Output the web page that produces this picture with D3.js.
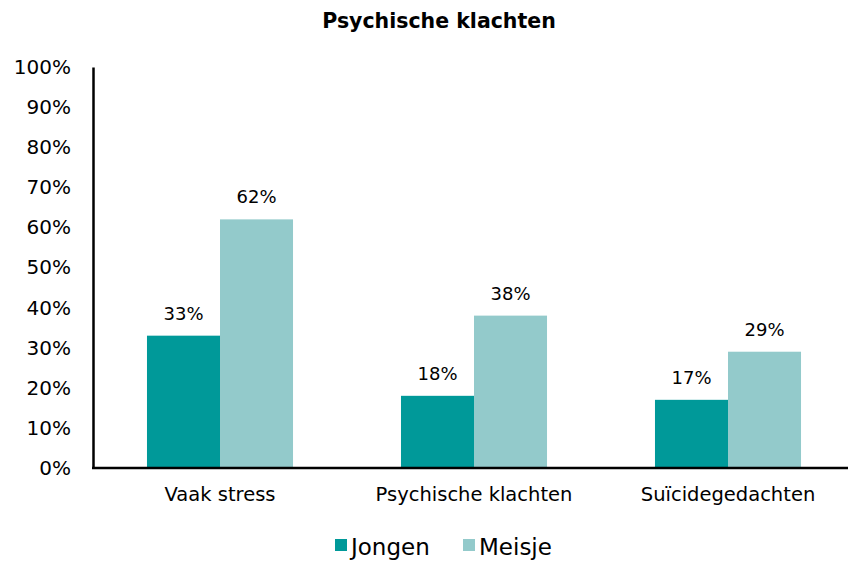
<!DOCTYPE html>
<html>
<head>
<meta charset="utf-8">
<script src="https://cdn.jsdelivr.net/npm/d3@7"></script>
<style>
  body { margin: 0; background: #fff; }
  svg { display: block; font-family: "DejaVu Sans", sans-serif; }
</style>
</head>
<body>
<svg id="chart" width="848" height="561"></svg>
<script>
const title = "Psychische klachten";
const categories = ["Vaak stress", "Psychische klachten", "Suïcidegedachten"];
const seriesNames = ["Jongen", "Meisje"];
const jongen = [33, 18, 17];
const meisje = [62, 38, 29];
const yTicks = [0, 10, 20, 30, 40, 50, 60, 70, 80, 90, 100];
const colors = ["#009999", "#93CACB"];

const svg = d3.select("#chart");
const mLeft = 93, mRight = 855, mTop = 67, mBottom = 468;

const x0 = d3.scaleBand().domain(categories).range([mLeft, mRight]).paddingInner(0.425).paddingOuter(0.2125);
const x1 = d3.scaleBand().domain(seriesNames).range([0, x0.bandwidth()]);
const y = d3.scaleLinear().domain([0, 100]).range([mBottom, mTop]);

const data = categories.map((c, i) => ({ cat: c, values: [jongen[i], meisje[i]] }));

// Title
svg.append("text")
  .attr("x", 439).attr("y", 28)
  .attr("text-anchor", "middle")
  .attr("font-weight", "bold")
  .attr("font-size", 20.5)
  .attr("fill", "#000")
  .text(title);

// Bars
const groups = svg.append("g").selectAll("g").data(data).join("g")
  .attr("transform", d => `translate(${x0(d.cat)},0)`);

groups.selectAll("rect").data(d => d.values.map((v, i) => ({ s: seriesNames[i], v, i }))).join("rect")
  .attr("x", d => x1(d.s))
  .attr("y", d => y(d.v))
  .attr("width", x1.bandwidth())
  .attr("height", d => y(0) - y(d.v))
  .attr("fill", d => colors[d.i]);

groups.selectAll("text.val").data(d => d.values.map((v, i) => ({ s: seriesNames[i], v, i }))).join("text")
  .attr("class", "val")
  .attr("x", d => x1(d.s) + x1.bandwidth() / 2)
  .attr("y", d => y(d.v) - 16)
  .attr("text-anchor", "middle")
  .attr("font-size", 18)
  .attr("fill", "#000")
  .text(d => d.v + "%");

// Y axis
const yAxis = d3.axisLeft(y).tickValues(yTicks).tickSize(0).tickPadding(22).tickFormat(d => d + "%");
const gy = svg.append("g").attr("transform", `translate(${mLeft},0)`).call(yAxis);
gy.select(".domain").attr("stroke", "#000").attr("stroke-width", 2.5);
gy.selectAll("text").attr("font-size", 20).attr("fill", "#000").attr("font-family", "DejaVu Sans, sans-serif");

// X axis
const xAxis = d3.axisBottom(x0).tickSize(0).tickPadding(19);
const gx = svg.append("g").attr("transform", `translate(0,${mBottom})`).call(xAxis);
gx.select(".domain").attr("stroke", "#000").attr("stroke-width", 2.5).attr("d", `M${mLeft - 1},0H848`);
gx.selectAll("text").attr("font-size", 19.5).attr("fill", "#000").attr("font-family", "DejaVu Sans, sans-serif");

// Legend
const legendItems = [{ name: seriesNames[0], x: 335 }, { name: seriesNames[1], x: 463 }];
const lg = svg.append("g");
legendItems.forEach((d, i) => {
  lg.append("rect").attr("x", d.x).attr("y", 539).attr("width", 12).attr("height", 12).attr("fill", colors[i]);
  lg.append("text").attr("x", d.x + 16).attr("y", 555).attr("font-size", 23).attr("fill", "#000").text(d.name);
});
</script>
</body>
</html>
